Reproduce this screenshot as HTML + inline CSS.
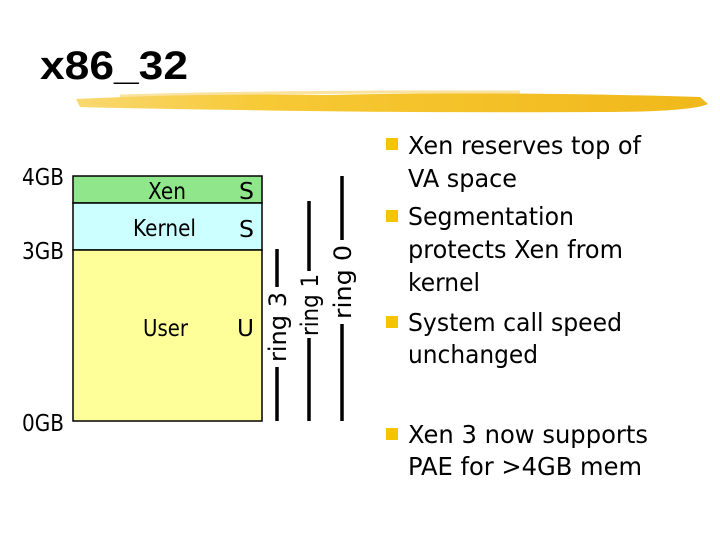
<!DOCTYPE html>
<html><head><meta charset="utf-8"><style>html,body{margin:0;padding:0;background:#fff}svg{display:block}</style></head>
<body>
<svg width="720" height="540" viewBox="0 0 720 540" xmlns="http://www.w3.org/2000/svg">
<defs>
<linearGradient id="br" x1="0" x2="1" y1="0" y2="0">
<stop offset="0" stop-color="#f9d870"/><stop offset="0.3" stop-color="#f7c935"/><stop offset="1" stop-color="#f0b81a"/>
</linearGradient>
</defs>
<text x="40" y="79" font-family="'Liberation Sans', sans-serif" font-weight="bold" font-size="40" textLength="148" lengthAdjust="spacingAndGlyphs">x86_32</text>
<path d="M76 99 Q200 93 330 95 Q500 91 700 97 L708 104 Q690 112 600 112 Q400 113 240 110 Q150 109 80 107 Z" fill="url(#br)"/>
<path d="M120 96 Q300 91 520 92" stroke="#f7d060" stroke-width="3" fill="none" opacity="0.6"/>

<rect x="73" y="176" width="189" height="27" fill="#90e68a" stroke="#000" stroke-width="1.5"/>
<rect x="73" y="203" width="189" height="47" fill="#ccffff" stroke="#000" stroke-width="1.5"/>
<rect x="73" y="250" width="189" height="171" fill="#ffff99" stroke="#000" stroke-width="1.5"/>

<g font-family="DejaVu Sans, sans-serif" font-size="23" fill="#000">
<text x="22" y="185" textLength="42" lengthAdjust="spacingAndGlyphs">4GB</text>
<text x="22" y="259" textLength="42" lengthAdjust="spacingAndGlyphs">3GB</text>
<text x="22" y="431" textLength="42" lengthAdjust="spacingAndGlyphs">0GB</text>
<text x="148" y="199" textLength="38" lengthAdjust="spacingAndGlyphs">Xen</text>
<text x="239" y="199" textLength="15" lengthAdjust="spacingAndGlyphs">S</text>
<text x="133" y="236" textLength="63" lengthAdjust="spacingAndGlyphs">Kernel</text>
<text x="239" y="237" textLength="15" lengthAdjust="spacingAndGlyphs">S</text>
<text x="143" y="336" textLength="45" lengthAdjust="spacingAndGlyphs">User</text>
<text x="237" y="336" textLength="17" lengthAdjust="spacingAndGlyphs">U</text>
</g>

<g stroke="#000" stroke-width="3.5">
<line x1="277" y1="249" x2="277" y2="287"/><line x1="277" y1="367" x2="277" y2="421"/>
<line x1="309" y1="201" x2="309" y2="271"/><line x1="309" y1="338" x2="309" y2="421"/>
<line x1="342" y1="176" x2="342" y2="240"/><line x1="342" y1="324" x2="342" y2="421"/>
</g>
<g font-family="DejaVu Sans, sans-serif" font-size="24" fill="#000" text-anchor="middle">
<text transform="translate(286,327) rotate(-90)" textLength="70" lengthAdjust="spacingAndGlyphs">ring 3</text>
<text transform="translate(318,305) rotate(-90)" textLength="62" lengthAdjust="spacingAndGlyphs">ring 1</text>
<text transform="translate(351,282) rotate(-90)" textLength="74" lengthAdjust="spacingAndGlyphs">ring 0</text>
</g>

<g fill="#f5c400">
<rect x="386" y="138" width="12" height="12"/>
<rect x="386" y="210" width="12" height="12"/>
<rect x="386" y="316" width="12" height="12"/>
<rect x="386" y="428" width="12" height="12"/>
</g>
<g font-family="DejaVu Sans, sans-serif" font-size="25" fill="#000">
<text x="408" y="154" textLength="233" lengthAdjust="spacingAndGlyphs">Xen reserves top of</text>
<text x="408" y="187" textLength="109" lengthAdjust="spacingAndGlyphs">VA space</text>
<text x="408" y="225" textLength="166" lengthAdjust="spacingAndGlyphs">Segmentation</text>
<text x="408" y="258" textLength="215" lengthAdjust="spacingAndGlyphs">protects Xen from</text>
<text x="408" y="291" textLength="72" lengthAdjust="spacingAndGlyphs">kernel</text>
<text x="408" y="331" textLength="214" lengthAdjust="spacingAndGlyphs">System call speed</text>
<text x="408" y="363" textLength="130" lengthAdjust="spacingAndGlyphs">unchanged</text>
<text x="408" y="443" textLength="240" lengthAdjust="spacingAndGlyphs">Xen 3 now supports</text>
<text x="408" y="475" textLength="234" lengthAdjust="spacingAndGlyphs">PAE for &gt;4GB mem</text>
</g>
</svg>
</body></html>
